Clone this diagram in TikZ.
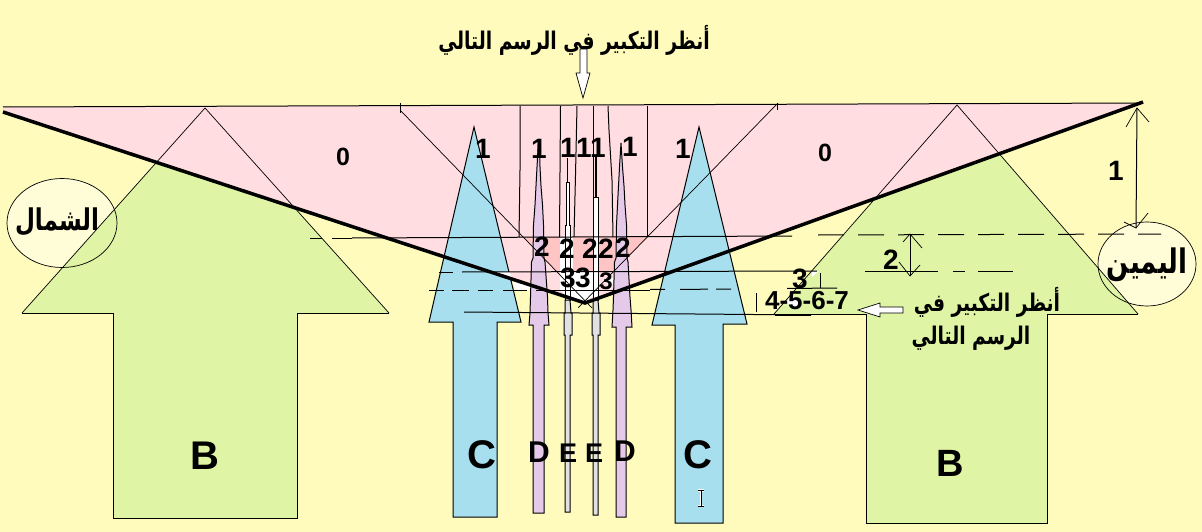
\documentclass[tikz,border=0pt]{standalone}
\usepackage{fontspec}
\setmainfont{Liberation Sans}
\newfontfamily\arabicfont[Script=Arabic]{DejaVu Sans}
\TeXXeTstate=1
\definecolor{bgy}{HTML}{FFFBBD}
\definecolor{pinkc}{HTML}{FFDDE1}
\definecolor{darkp}{HTML}{FFC4C4}
\definecolor{greenc}{HTML}{DFF4A4}
\definecolor{bluec}{HTML}{A8DFEF}
\definecolor{purc}{HTML}{E5C9E9}
\definecolor{greyc}{HTML}{E1E1E1}
\definecolor{palec}{HTML}{FFFDD8}
\newcommand{\tallAr}[1]{\scalebox{1}[1.3]{\beginR #1\endR}}
\tikzset{
  thinl/.style={draw=black,line width=0.7pt},
  med/.style={draw=black,line width=1pt},
  dashl/.style={draw=black,line width=1pt,dash pattern=on 26pt off 14pt},
  heavy/.style={draw=black,line width=3.5pt},
  lab/.style={inner sep=0pt,font=\bfseries\fontsize{28}{28}\selectfont},
  big/.style={inner sep=0pt,font=\bfseries\fontsize{40}{40}\selectfont},
  arb/.style={inner sep=0pt,font=\arabicfont\bfseries\fontsize{18.7}{19}\selectfont},
  arbb/.style={inner sep=0pt,font=\arabicfont\bfseries\fontsize{23}{23}\selectfont}
}
\begin{document}
\begin{tikzpicture}[x=1pt,y=-1pt]
\useasboundingbox (0,0) rectangle (1202,532);
\fill[bgy] (0,0) rectangle (1202,532);
% ellipses fill
\fill[palec] (62,223) ellipse [x radius=55,y radius=44.5];
\fill[palec] (1147,264) ellipse [x radius=49,y radius=42];
% green arrows fill
\fill[greenc] (205,108)--(389,313)--(297,313)--(297,518)--(113,518)--(113,313)--(22,313)--cycle;
\fill[greenc] (957,105)--(1138,314)--(1047,314)--(1047,523)--(866,523)--(866,314)--(774,314)--cycle;
% pink
\fill[pinkc] (3,107)--(1143,103)--(585,303)--(3,112)--cycle;
% green outlines
\draw[thinl] (22,313)--(205,108)--(389,313);
\draw[med] (22,313)--(113,313)--(113,518)--(297,518)--(297,313)--(389,313);
\draw[thinl] (774,314)--(957,105)--(1138,314);
\draw[med] (774,314)--(866,314)--(866,523)--(1047,523)--(1047,314)--(1138,314);
% ellipse outlines
\draw[thinl] (62,223) ellipse [x radius=55,y radius=44.5];
\draw[thinl] (1147,264) ellipse [x radius=49,y radius=42];
% blue arrows
\draw[med,fill=bluec] (474,127)--(521,322)--(497,322)--(497,517)--(453,517)--(453,322)--(429,322)--cycle;
\draw[med,fill=bluec] (699,127)--(747,324)--(723,324)--(723,523)--(675,523)--(675,325)--(652,325)--cycle;
% central tinted zones
\fill[darkp] (523,237)--(648,237)--(615,271)--(556,271)--cycle;
\fill[white] (560,238)--(573,238)--(573,271)--(560,271)--cycle;
\fill[white] (560,271)--(593,271)--(593,296)--(585,303)--(570,298)--(560,290)--cycle;
\fill[white] (495,272)--(510,272)--(512,279)--cycle;
\fill[white] (512,278)--(548,290)--(515,290)--cycle;
\fill[white] (812,271)--(819,271)--(812,277)--cycle;
\fill[white] (606,281)--(616,277)--(610,290)--cycle;
\fill[white] (793,302) ellipse [x radius=6,y radius=5];
% near-vertical lines of zone 1
\draw[med] (520,106)--(520,170)--(519,237);
\draw[med] (560.5,106)--(559.5,237);
\draw[med] (577,106)--(575.5,175)--(574,237);
\draw[med] (593,106)--(593,197);
\draw[med] (608,106)--(609,130)--(612,180)--(613,237);
\draw[med] (647,106)--(647,237);
% spears D
\draw[med,fill=purc] (538.5,140)--(537,167)--(536,186)--(535,205)--(533.5,225)--(533,258)--(531.5,262)--(530.5,297)--(530,313)--(529,325)--(533,325)--(533,513)--(544,513)--(544,325)--(549,325)--(548,313)--(547.5,297)--(545,262)--(544,258)--(543.5,225)--(542.5,205)--(541,186)--(540,167)--(539.5,140)--cycle;
\draw[med,fill=purc] (621,143)--(619.5,167)--(618.5,186)--(617.5,205)--(616.5,225)--(616,258)--(614.5,262)--(613.5,297)--(613,310)--(612,327)--(616,327)--(616,517)--(626,517)--(626,327)--(632,327)--(631,310)--(630,297)--(628,262)--(627,258)--(626.5,225)--(625,205)--(624,186)--(622.5,167)--cycle;
% spears E
\draw[med] (567,158)--(567,182);
\draw[med,fill=white] (566,182)--(569,182)--(569,225)--(570,225)--(570,300)--(565,300)--(565,225)--(566,225)--cycle;
\draw[med,fill=greyc] (565,300)--(570,300)--(571,313)--(572,313)--(572,335)--(570,335)--(570,512)--(565,512)--(565,335)--(564,335)--(564,313)--(565,313)--cycle;
\draw[line width=2.4pt] (595.7,157)--(595.7,197);
\draw[med,fill=white] (593,197)--(598,197)--(598,300)--(593,300)--cycle;
\draw[med,fill=greyc] (593,300)--(598,300)--(599,313)--(600,313)--(600,335)--(598,335)--(598,515)--(593,515)--(593,335)--(592,335)--(592,313)--(593,313)--cycle;
% diagonals
\draw[thinl] (400,103)--(400,113);
\draw[thinl] (400,110)--(592,308);
\draw[thinl] (777,103)--(777,110);
\draw[thinl] (778,103)--(578,308);
% horizontal lines
\draw[med] (3,107)--(1143,103);
\draw[dashl,dash pattern=on 12pt off 10pt on 26pt off 8pt] (310,238)--(352,238);
\draw[med] (352,238)--(792,236);
\draw[dashl] (818,235)--(1161,234);
\draw[dashl,dash pattern=on 14pt off 9pt] (439,272)--(462,272);
\draw[med] (462,272)--(817,271);
\draw[dashl,dash pattern=on 73pt off 15pt on 12pt off 13pt on 10pt off 0pt] (865,271)--(1013,271);
\draw[dashl,dash pattern=on 15pt off 8pt on 17pt off 9pt on 16pt off 13pt] (429,290)--(493,290);
\draw[dashl,dash pattern=on 24pt off 9pt] (503,290)--(560,290);
\draw[med] (560,290)--(650,290);
\draw[dashl,dash pattern=on 15pt off 15pt on 28pt off 8pt on 15pt off 20pt] (650,289.5)--(750,289);
\draw[med] (787,288.5)--(837,288);
\draw[med] (464,312)--(811,315);
\draw[line width=1.6pt] (775,315)--(811,315);
\draw[med] (756,293)--(756,312);
\draw[med] (820,273)--(820,288);
% heavy V
\draw[heavy] (3,112)--(585,303)--(1143,102);
% dimension arrows
\coordinate (oneT) at (1137,108);
\coordinate (oneB) at (1136,228);
\draw[med] (oneT)--(oneB);
\draw[thinl] (1126,127)--(oneT)--(1149,122);
\draw[thinl] (1124,222)--(oneB)--(1148,213);
\coordinate (twoT) at (910,234);
\coordinate (twoB) at (910,276);
\draw[med] (twoT)--(twoB);
\draw[thinl] (903,242)--(twoT)--(922,248);
\draw[thinl] (899,262)--(twoB)--(920,265);
% white arrows
\draw[thinl,fill=white] (580,49)--(587,49)--(587,73)--(590,73)--(583,98)--(576,73)--(580,73)--cycle;
\draw[thinl,fill=white] (903,307)--(903,313)--(880,313)--(880,317)--(858,310)--(880,303)--(880,307)--cycle;
% cursor
\draw[white,line width=2.4pt] (698,490.5)--(704,490.5) (701,490.5)--(701,506) (698,506)--(704,506);
\draw[black,line width=0.8pt] (698,490.5)--(704,490.5) (701,490.5)--(701,506) (698,506)--(704,506);
% labels
\node[lab,font=\bfseries\fontsize{25}{25}\selectfont] (z0a) at (343,157) {0};
\node[lab,font=\bfseries\fontsize{25}{25}\selectfont] (z0b) at (825,153) {0};
\node[lab] (o1) at (483,149) {1};
\node[lab] (o2) at (539,149) {1};
\node[lab] (o3) at (568,148) {1};
\node[lab] (o4) at (584,148) {1};
\node[lab] (o5) at (598,148) {1};
\node[lab] (o6) at (630,147) {1};
\node[lab] (o7) at (683,149) {1};
\node[lab] (o8) at (1116,171) {1};
\node[lab] (t1) at (542,247) {2};
\node[lab] (t2) at (567,249) {2};
\node[lab] (t3) at (590,249) {2};
\node[lab] (t4) at (606,249) {2};
\node[lab] (t5) at (623,248) {2};
\node[lab] (t6) at (891,260) {2};
\node[lab] (h1) at (568,278) {3};
\node[lab] (h2) at (583,278) {3};
\node[lab,font=\bfseries\fontsize{24}{24}\selectfont] (h3) at (606,281) {3};
\node[lab] (h4) at (800,279) {3};
\node[lab,font=\bfseries\fontsize{26}{26}\selectfont] (seq) at (807,301) {4-5-6-7};
\node[big] (b1) at (205,456) {B};
\node[big,font=\bfseries\fontsize{38}{38}\selectfont] (b2) at (950,463) {B};
\node[big] (c1) at (482,455) {C};
\node[big] (c2) at (698,455) {C};
\node[lab,font=\bfseries\fontsize{30}{30}\selectfont] (d1) at (539,452) {D};
\node[lab,font=\bfseries\fontsize{30}{30}\selectfont] (d2) at (625,451) {D};
\node[lab,font=\bfseries\fontsize{27}{27}\selectfont] (e1) at (568,453) {E};
\node[lab,font=\bfseries\fontsize{27}{27}\selectfont] (e2) at (594,453) {E};
\node[arb] (tTop) at (574,40) {\tallAr{أنظر التكبير في الرسم التالي}};
\node[arb] (tR1) at (987,302) {\tallAr{أنظر التكبير في}};
\node[arb] (tR2) at (971,338) {\tallAr{الرسم التالي}};
\node[arbb] (north) at (57,222) {\tallAr{الشمال}};
\node[arbb,font=\arabicfont\bfseries\fontsize{26}{26}\selectfont] (south) at (1147,265) {\tallAr{اليمين}};
\end{tikzpicture}
\end{document}
